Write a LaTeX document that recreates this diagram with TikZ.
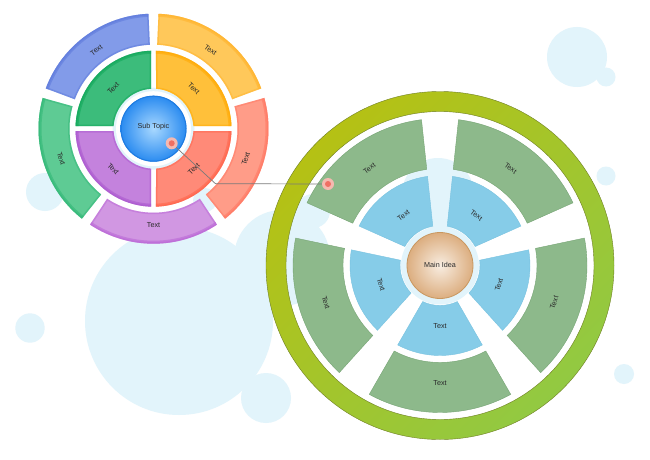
\documentclass[tikz,border=0pt]{standalone}
\usepackage{fontspec}
\setmainfont{Liberation Sans}
\definecolor{bub}{HTML}{E2F4FB}
\definecolor{txtc}{HTML}{2A2A2A}
\definecolor{oBlue}{HTML}{829BE9}\definecolor{oBlueD}{HTML}{5C78DB}
\definecolor{oYel}{HTML}{FFC85A}\definecolor{oYelD}{HTML}{FFB22A}
\definecolor{oRed}{HTML}{FF9C88}\definecolor{oRedD}{HTML}{FF7560}
\definecolor{oPur}{HTML}{D197E2}\definecolor{oPurD}{HTML}{B964D6}
\definecolor{oGrn}{HTML}{5ECB94}\definecolor{oGrnD}{HTML}{2FB775}
\definecolor{iGrn}{HTML}{3CBC7B}\definecolor{iGrnD}{HTML}{0FA758}
\definecolor{iYel}{HTML}{FFC03A}\definecolor{iYelD}{HTML}{FFA800}
\definecolor{iRed}{HTML}{FF8A78}\definecolor{iRedD}{HTML}{FF6248}
\definecolor{iPur}{HTML}{C482DD}\definecolor{iPurD}{HTML}{A955CE}
\definecolor{subIn}{HTML}{A8D8FF}\definecolor{subOut}{HTML}{2A8BF0}\definecolor{subEdge}{HTML}{1F7BE0}
\definecolor{rBlue}{HTML}{86CCE8}\definecolor{rBlueE}{HTML}{78C2E0}
\definecolor{rGrn}{HTML}{8DB98B}\definecolor{rGrnE}{HTML}{76A474}
\definecolor{ringA}{HTML}{B5C114}\definecolor{ringB}{HTML}{92C942}\definecolor{ringE}{HTML}{6F7F22}
\definecolor{mainIn}{HTML}{F8EDE1}\definecolor{mainOut}{HTML}{DCAE80}\definecolor{mainEdge}{HTML}{C9975F}
\definecolor{dotOut}{HTML}{F5B9B0}\definecolor{dotIn}{HTML}{EF6F63}
\definecolor{conn}{HTML}{7A7A7A}
% segment path: r1 r2 gapA gapB a(pt) b(deg)
\newcommand\mkseg[6]{%
 \pgfmathsetmacro\sA{#3+deg(#5/#1)+#6}%
 \pgfmathsetmacro\sB{#3+deg(#5/#2)+#6}%
 \pgfmathsetmacro\eA{#4-deg(#5/#1)-#6}%
 \pgfmathsetmacro\eB{#4-deg(#5/#2)-#6}%
 \def\segp{(\sA:#1pt) -- (\sB:#2pt) arc[start angle=\sB,end angle=\eB,radius=#2pt] -- (\eA:#1pt) arc[start angle=\eA,end angle=\sA,radius=#1pt] -- cycle}%
 \def\outarc{(\sB:#2pt) arc[start angle=\sB,end angle=\eB,radius=#2pt]}}
\newcommand\glossy[2]{%
 \fill[#1]\segp;
 \begin{scope}\clip\segp;
  \draw[#2,line width=3pt,opacity=.45]\segp;
  \draw[#2,line width=6pt,opacity=.55]\outarc;
 \end{scope}}
\begin{document}
\begin{tikzpicture}[x=1pt,y=1pt,font=\fontsize{7.2}{8.4}\selectfont,
  txt/.style={text=txtc,inner sep=0pt},
  bubble/.style={fill=bub}]
\useasboundingbox (0,0) rectangle (650,459);
\fill[white] (0,0) rectangle (650,459);
% background bubbles
\fill[bubble] (577,402) circle (30);
\fill[bubble] (606,382) circle (9.5);
\fill[bubble] (606,283) circle (9.5);
\fill[bubble] (624,85) circle (10);
\fill[bubble] (45,267) circle (19);
\fill[bubble] (30,131) circle (14.7);
\fill[bubble] (179,138) circle (94);
\fill[bubble] (266,61) circle (25);
\fill[bubble] (282,201) circle (48);
\fill[bubble] (313,248) circle (17);
\fill[bubble] (438,265) circle (36);
\fill[bubble] (205,259) circle (12);
% ---------- left diagram ----------
\begin{scope}[shift={(153.5,330.3)}]
 \fill[bub] (0,0) circle (41pt);
 % outer ring
 \mkseg{84}{115}{90}{162}{0}{2.5}\glossy{oBlue}{oBlueD}
 \mkseg{84}{115}{162}{234}{0}{2.5}\glossy{oGrn}{oGrnD}
 \mkseg{84}{115}{234}{306}{0}{2.5}\glossy{oPur}{oPurD}
 \mkseg{84}{115}{306}{378}{0}{2.5}\glossy{oRed}{oRedD}
 \mkseg{84}{115}{18}{90}{0}{2.5}\glossy{oYel}{oYelD}
 % inner quadrants
 \mkseg{40}{78}{90}{180}{2.5}{0}\glossy{iGrn}{iGrnD}
 \mkseg{40}{78}{0}{90}{2.5}{0}\glossy{iYel}{iYelD}
 \mkseg{40}{78}{270}{360}{2.5}{0}\glossy{iRed}{iRedD}
 \mkseg{40}{78}{180}{270}{2.5}{0}\glossy{iPur}{iPurD}
 \fill[white] (0,0) circle (37.5pt);
 \shade[inner color=subIn,outer color=subOut] (0,0) circle (33pt);
 \draw[subEdge,line width=1pt] (0,0) circle (32.5pt);
 \node[txt] (sub) at (0,2) {Sub Topic};
 \node[txt,rotate=36] (lo1) at (126:97pt) {Text};
 \node[txt,rotate=-36] (lo2) at (54:97pt) {Text};
 \node[txt,rotate=72] (lo3) at (342:97pt) {Text};
 \node[txt] (lo4) at (270:96pt) {Text};
 \node[txt,rotate=-72] (lo5) at (198:97pt) {Text};
 \node[txt,rotate=45] (li1) at (135:57pt) {Text};
 \node[txt,rotate=-45] (li2) at (45:57pt) {Text};
 \node[txt,rotate=45] (li3) at (315:57pt) {Text};
 \node[txt,rotate=-45] (li4) at (225:57pt) {Text};
\end{scope}
% ---------- right diagram ----------
\begin{scope}[shift={(440,193.5)}]
 \shade[even odd rule,top color=ringA,bottom color=ringB,shading angle=45] (0,0) circle (174pt) (0,0) circle (154pt);
 \draw[ringE,line width=.4pt] (0,0) circle (174pt) (0,0) circle (154pt);
 \fill[bub] (0,0) circle (39pt);
 \foreach \g in {90,162,234,306,378}{
   \pgfmathsetmacro\gb{\g+72}
   \mkseg{40}{90}{\g}{\gb}{3}{6.07}
   \path[fill=rBlue,draw=rBlueE,line width=.4pt]\segp;
   \mkseg{97}{147}{\g}{\gb}{3}{6.07}
   \path[fill=rGrn,draw=rGrnE,line width=.4pt]\segp;
 }
 \shade[inner color=mainIn,outer color=mainOut] (0,0) circle (33pt);
 \draw[mainEdge,line width=.8pt] (0,0) circle (33pt);
 \node[txt] (main) at (0,1) {Main Idea};
 \node[txt,rotate=36] (rb1) at (126:62pt) {Text};
 \node[txt,rotate=-36] (rb2) at (54:62pt) {Text};
 \node[txt,rotate=72] (rb3) at (342:62pt) {Text};
 \node[txt] (rb4) at (270:61pt) {Text};
 \node[txt,rotate=-72] (rb5) at (198:62pt) {Text};
 \node[txt,rotate=36] (rg1) at (126:120pt) {Text};
 \node[txt,rotate=-36] (rg2) at (54:120pt) {Text};
 \node[txt,rotate=72] (rg3) at (342:120pt) {Text};
 \node[txt] (rg4) at (270:118pt) {Text};
 \node[txt,rotate=-72] (rg5) at (198:120pt) {Text};
\end{scope}
% ---------- connector ----------
\coordinate (d1) at (171.7,315.7);
\coordinate (bend) at (215.5,275.3);
\coordinate (d2) at (328,275);
\draw[conn,line width=.7pt] (d1) -- (bend) -- (d2);
\node[circle,fill=dotOut,minimum size=12pt,inner sep=0pt] (dot1) at (d1) {};
\node[circle,fill=dotIn,minimum size=6pt,inner sep=0pt] (dot1i) at (d1) {};
\node[circle,fill=dotOut,minimum size=12pt,inner sep=0pt] (dot2) at (d2) {};
\node[circle,fill=dotIn,minimum size=6pt,inner sep=0pt] (dot2i) at (d2) {};
\end{tikzpicture}
\end{document}
